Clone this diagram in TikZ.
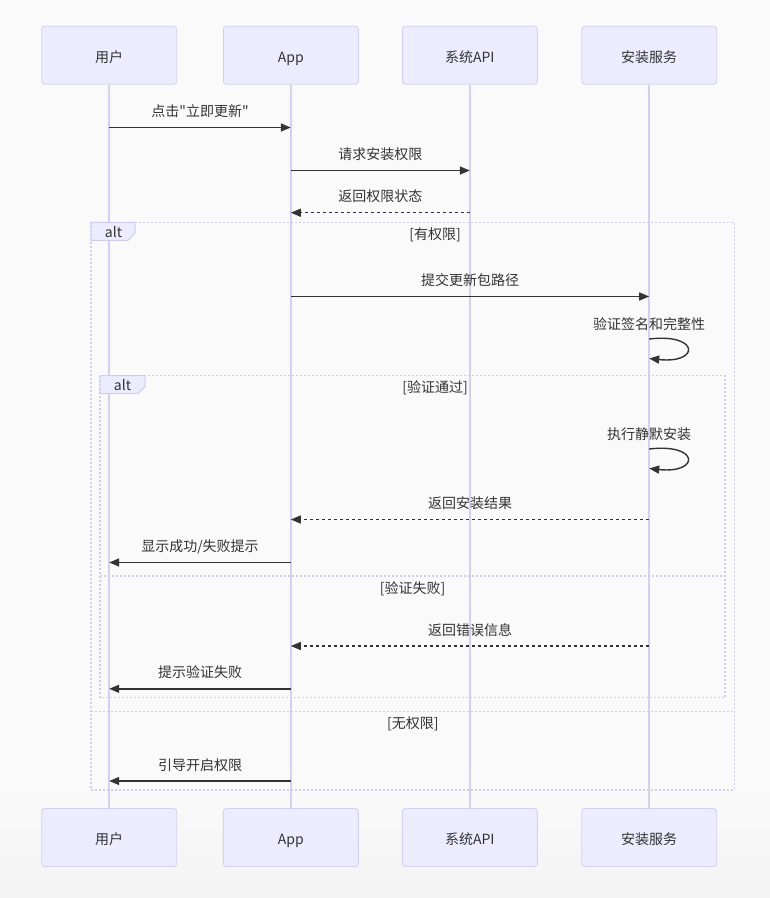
\documentclass[tikz,border=0pt]{standalone}
\usepackage{fontspec}
\setmainfont[Ligatures=TeXOff]{Noto Sans CJK SC}
\usetikzlibrary{arrows.meta}
\definecolor{actfill}{HTML}{ECECFF}
\definecolor{actline}{HTML}{D6CFF3}
\definecolor{framecol}{HTML}{CFCBF2}
\definecolor{txt}{HTML}{333333}
\definecolor{bgA}{HTML}{FAFAFA}
\definecolor{bgB}{HTML}{F3F3F3}
\tikzset{
  actor/.style={draw=actline, fill=actfill, line width=0.9pt, rounded corners=3pt,
    minimum width=135pt, minimum height=58pt, inner sep=0pt,
    text height=14pt, text depth=0pt, text=txt, font=\fontsize{14}{16}\selectfont},
  lifeline/.style={draw=actline, line width=1.8pt},
  msg/.style={draw=txt, line width=1.4pt, -{Triangle[length=10pt,width=8pt]}},
  reply/.style={msg, dash pattern=on 3pt off 3pt},
  lbl/.style={anchor=base, inner sep=0pt, text=txt, font=\fontsize{14}{16}\selectfont},
  frame/.style={draw=framecol, line width=1.4pt, dash pattern=on 2pt off 2pt},
  tag/.style={draw=framecol, fill=actfill, line width=1pt},
}
\begin{document}
\begin{tikzpicture}[x=1pt,y=-1pt]
\useasboundingbox (0,0) rectangle (770,898);
\fill[bgA] (0,0) rectangle (770,898);
\shade[top color=bgA, bottom color=bgB] (0,790) rectangle (770,898);

% actors
\node[actor] (u1) at (109.2,55.2) {用户};
\node[actor] (a1) at (290.8,55.2) {App};
\node[actor] (s1) at (469.8,55.2) {系统API};
\node[actor] (i1) at (649.2,55.2) {安装服务};
\node[actor] (u2) at (109.2,837.5) {用户};
\node[actor] (a2) at (290.8,837.5) {App};
\node[actor] (s2) at (469.8,837.5) {系统API};
\node[actor] (i2) at (649.2,837.5) {安装服务};

% lifelines
\draw[lifeline] (u1) -- (u2);
\draw[lifeline] (a1) -- (a2);
\draw[lifeline] (s1) -- (s2);
\draw[lifeline] (i1) -- (i2);

% frames
\draw[frame] (91,222.3) rectangle (734.5,790);
\draw[frame] (91,711.7) -- (734.5,711.7);
\draw[tag] (91,222.3) -- (135,222.3) -- (135,233) -- (128,240.3) -- (91,240.3) -- cycle;
\node[lbl] (altA) at (113.5,237) {alt};
\node[lbl] (g1) at (435,239) {[有权限]};
\node[lbl] (g4) at (412.8,728) {[无权限]};

\draw[frame] (100,375.7) rectangle (725,697.7);
\draw[frame] (100,576) -- (725,576);
\draw[tag] (100,375.7) -- (145,375.7) -- (145,386.5) -- (138,393.7) -- (100,393.7) -- cycle;
\node[lbl] (altB) at (122.5,390.5) {alt};
\node[lbl] (g2) at (435,392) {[验证通过]};
\node[lbl] (g3) at (412.5,593) {[验证失败]};

% message end points
\coordinate (m1a) at (109.2,127.5);  \coordinate (m1b) at (290.8,127.5);
\coordinate (m2a) at (290.8,170.5);  \coordinate (m2b) at (469.8,170.5);
\coordinate (m3a) at (469.8,212.7);  \coordinate (m3b) at (290.8,212.7);
\coordinate (m4a) at (290.8,296.5);  \coordinate (m4b) at (649.2,296.5);
\coordinate (m5a) at (649.2,339);    \coordinate (m5b) at (649.2,358.5);
\coordinate (m6a) at (649.2,449);    \coordinate (m6b) at (649.2,468.5);
\coordinate (m7a) at (649.2,519.5);  \coordinate (m7b) at (290.8,519.5);
\coordinate (m8a) at (290.8,562.5);  \coordinate (m8b) at (109.2,562.5);
\coordinate (m9a) at (649.2,646);    \coordinate (m9b) at (290.8,646);
\coordinate (m10a) at (290.8,688.8); \coordinate (m10b) at (109.2,688.8);
\coordinate (m11a) at (290.8,781);   \coordinate (m11b) at (109.2,781);

% messages
\draw[msg] (m1a) -- (m1b);
\node[lbl] (t1) at (200,116.5) {点击"立即更新"};
\draw[msg] (m2a) -- (m2b);
\node[lbl] (t2) at (380.3,159.5) {请求安装权限};
\draw[reply] (m3a) -- (m3b);
\node[lbl] (t3) at (380.3,201.7) {返回权限状态};
\draw[msg] (m4a) -- (m4b);
\node[lbl] (t4) at (470,285.5) {提交更新包路径};
\draw[msg] (m5a) .. controls (700,333) and (700,364) .. (m5b);
\node[lbl] (t5) at (649.2,329) {验证签名和完整性};
\draw[msg] (m6a) .. controls (700,443) and (700,474) .. (m6b);
\node[lbl] (t6) at (649.2,439) {执行静默安装};
\draw[reply] (m7a) -- (m7b);
\node[lbl] (t7) at (470,508.5) {返回安装结果};
\draw[msg] (m8a) -- (m8b);
\node[lbl] (t8) at (200,551.5) {显示成功/失败提示};
\draw[reply] (m9a) -- (m9b);
\node[lbl] (t9) at (470,635) {返回错误信息};
\draw[msg] (m10a) -- (m10b);
\node[lbl] (t10) at (200,677.8) {提示验证失败};
\draw[msg] (m11a) -- (m11b);
\node[lbl] (t11) at (200,770) {引导开启权限};
\end{tikzpicture}
\end{document}
